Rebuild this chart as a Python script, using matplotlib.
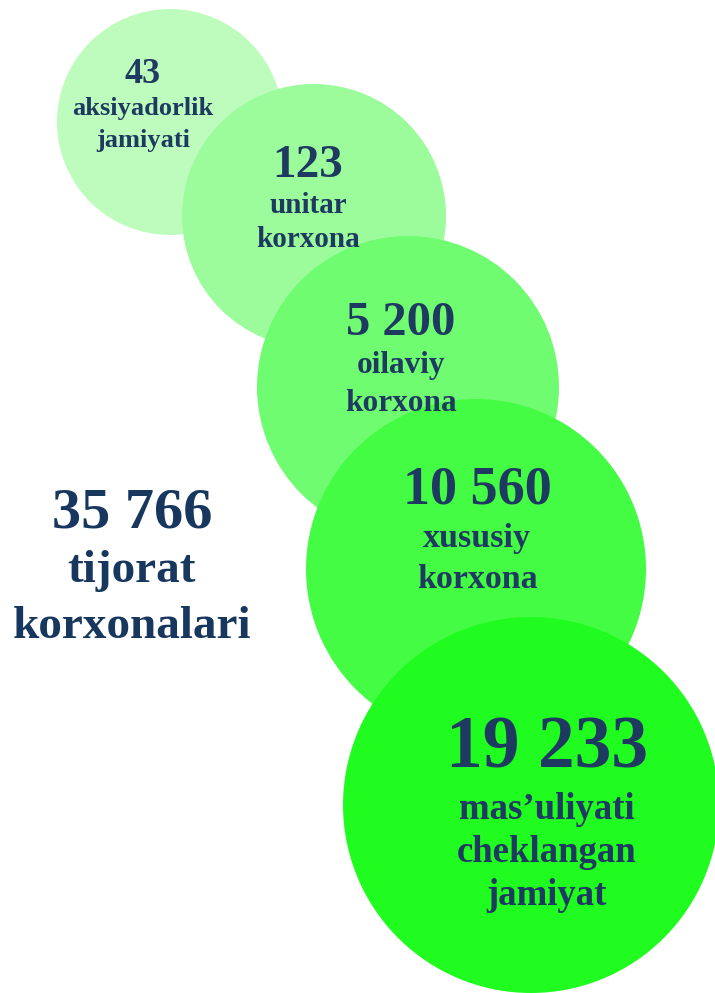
import matplotlib.pyplot as plt
from matplotlib.patches import Circle

# data
values = ["43", "123", "5 200", "10 560", "19 233"]
labels = [
    ["aksiyadorlik", "jamiyati"],
    ["unitar", "korxona"],
    ["oilaviy", "korxona"],
    ["xususiy", "korxona"],
    ["mas\u2019uliyati", "cheklangan", "jamiyat"],
]
total_value = "35 766"
total_label = ["tijorat", "korxonalari"]

# layout (pixels, y down)
centers = [(170, 122), (314, 216), (408, 387), (476, 569), (531, 805)]
radii = [113, 132, 151, 170, 188]
colors = ["#bdfcbd", "#9cfc9c", "#70fc70", "#44fc44", "#20fc20"]
text_x = [143, 308, 401, 477, 547]
num_base = [83, 177, 335, 503, 768]
num_size = [26, 34, 35, 39, 53]
lab_size = [19, 21, 22.5, 24.5, 26.5]
lab_gap = [32, 36, 38, 44, 51]
lab_step = [32, 34, 38, 41, 43]

navy = "#1f3a60"
font = "Liberation Serif"

fig = plt.figure(figsize=(7.15, 9.93), dpi=100)
ax = fig.add_axes([0, 0, 1, 1])
ax.set_xlim(0, 715)
ax.set_ylim(993, 0)
ax.set_aspect("equal")
ax.axis("off")

for i in range(len(values)):
    ax.add_patch(Circle(centers[i], radii[i], color=colors[i], lw=0, zorder=i))
for i in range(len(values)):
    ax.text(text_x[i], num_base[i], values[i], ha="center", va="baseline",
            fontsize=num_size[i], fontweight="bold", family=font, color=navy,
            zorder=10)
    y = num_base[i] + lab_gap[i]
    for line in labels[i]:
        ax.text(text_x[i], y, line, ha="center", va="baseline",
                fontsize=lab_size[i], fontweight="bold", family=font,
                color=navy, zorder=10)
        y += lab_step[i]

ax.text(132, 527, total_value, ha="center", va="baseline", fontsize=42,
        fontweight="bold", family=font, color="#17375e")
y = 582
for line in total_label:
    ax.text(132, y, line, ha="center", va="baseline", fontsize=34,
            fontweight="bold", family=font, color="#17375e")
    y += 56

fig.savefig("out.png", dpi=100)
